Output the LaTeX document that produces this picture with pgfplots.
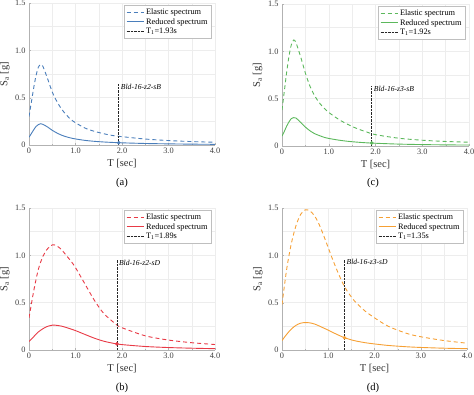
\documentclass[border=0pt]{standalone}
\usepackage{fontspec}
\setmainfont{Liberation Serif}
\usepackage{pgfplots}
\pgfplotsset{compat=1.18}
\definecolor{cblue}{RGB}{74,126,187}
\definecolor{cgreen}{RGB}{92,184,92}
\definecolor{cred}{RGB}{232,58,70}
\definecolor{corange}{RGB}{246,160,52}
\tikzset{ann/.style={anchor=north west, font=\itshape\fontsize{7.6}{8}\selectfont, inner sep=1pt, xshift=1pt}}
\pgfplotsset{
  sp/.style={
    scale only axis, width=186pt, height=142pt,
    xmin=0, xmax=4, ymin=0, ymax=1.5,
    axis lines=left, axis line style={gray!60, -},
    xtick={0,1,2,3,4}, xticklabels={0,1.0,2.0,3.0,4.0},
    ytick={0,0.5,1,1.5}, yticklabels={0,0.5,1.0,1.5},
    minor x tick num=1, minor y tick num=1,
    grid=both, grid style={gray!14, line width=0.4pt}, minor grid style={gray!14, line width=0.4pt},
    tick style={gray!60}, tick align=inside,
    major tick length=2pt, minor tick length=1pt,
    /pgf/number format/assume math mode=true,
    tick label style={font=\fontsize{8.3}{9}\selectfont, text=black!75},
    xticklabel style={yshift=1pt},
    xlabel={T [sec]}, ylabel={S\textsubscript{a} [g]},
    label style={font=\fontsize{10.5}{11}\selectfont, text=black!80},
    xlabel style={at={(axis description cs:0.5,-0.13)}, anchor=center},
    ylabel style={at={(axis description cs:-0.13,0.5)}, anchor=center},
    legend cell align=left,
    legend style={at={(rel axis cs:0.98,0.985)}, anchor=north east,
      font=\fontsize{8.3}{9.3}\selectfont, draw=gray!50, inner sep=1.5pt,
      row sep=-1.8pt, fill=white},
  },
  el/.style={line width=0.9pt, dash pattern=on 4pt off 3pt},
  rd/.style={line width=0.9pt},
  tl/.style={black!85, line width=0.6pt, dash pattern=on 0.8pt off 0.6pt},
}
\begin{document}
\begin{tikzpicture}
\useasboundingbox (0pt,0pt) rectangle (474pt,394pt);
% (a)
\begin{axis}[sp, at={(29pt,249pt)}, anchor=south west]
\addplot[cblue, el, smooth] coordinates {(0,0.30) (0.05,0.45) (0.1,0.6) (0.15,0.73) (0.2,0.82) (0.25,0.85) (0.3,0.83) (0.4,0.70) (0.5,0.56) (0.6,0.46) (0.7,0.38) (0.8,0.32) (0.9,0.27) (1.0,0.235) (1.2,0.18) (1.4,0.145) (1.6,0.12) (1.8,0.10) (2.0,0.088) (2.5,0.063) (3.0,0.047) (3.5,0.036) (4.0,0.029)};
\addlegendentry{Elastic spectrum}
\addplot[cblue, rd, smooth] coordinates {(0,0.082) (0.05,0.12) (0.1,0.16) (0.15,0.195) (0.2,0.215) (0.25,0.225) (0.3,0.218) (0.4,0.19) (0.5,0.155) (0.6,0.127) (0.7,0.104) (0.8,0.087) (0.9,0.074) (1.0,0.064) (1.2,0.049) (1.4,0.039) (1.6,0.032) (1.8,0.027) (2.0,0.023) (2.5,0.016) (3.0,0.012) (3.5,0.009) (4.0,0.007)};
\addlegendentry{Reduced spectrum}
\addplot[tl] coordinates {(1.93,0) (1.93,0.64)};
\addlegendentry{T\textsubscript{1}=1.93s}
\addplot[only marks, mark=*, mark size=1.6pt, cblue, forget plot] coordinates {(1.93,0.024)};
\node[ann] at (axis cs:1.93,0.65) {Bld-16-z2-sB};
\end{axis}
% (c)
\begin{axis}[sp, at={(282pt,248pt)}, anchor=south west, width=187pt]
\addplot[cgreen, el, smooth] coordinates {(0,0.38) (0.05,0.58) (0.1,0.78) (0.15,0.95) (0.2,1.07) (0.25,1.12) (0.3,1.09) (0.4,0.94) (0.5,0.77) (0.6,0.63) (0.7,0.53) (0.8,0.455) (0.9,0.40) (1.0,0.355) (1.2,0.285) (1.4,0.23) (1.6,0.185) (1.8,0.15) (2.0,0.12) (2.5,0.082) (3.0,0.061) (3.5,0.048) (4.0,0.04)};
\addlegendentry{Elastic spectrum}
\addplot[cgreen, rd, smooth] coordinates {(0,0.105) (0.05,0.155) (0.1,0.21) (0.15,0.255) (0.2,0.29) (0.25,0.30) (0.3,0.295) (0.4,0.25) (0.5,0.20) (0.6,0.16) (0.7,0.13) (0.8,0.11) (0.9,0.092) (1.0,0.08) (1.2,0.063) (1.4,0.05) (1.6,0.041) (1.8,0.034) (2.0,0.029) (2.5,0.02) (3.0,0.015) (3.5,0.012) (4.0,0.01)};
\addlegendentry{Reduced spectrum}
\addplot[tl] coordinates {(1.92,0) (1.92,0.63)};
\addlegendentry{T\textsubscript{1}=1.92s}
\addplot[only marks, mark=*, mark size=1.6pt, cgreen, forget plot] coordinates {(1.92,0.031)};
\node[ann] at (axis cs:1.92,0.64) {Bld-16-z3-sB};
\end{axis}
% (b)
\begin{axis}[sp, at={(29pt,44pt)}, anchor=south west]
\addplot[cred, el, smooth] coordinates {(0,0.34) (0.1,0.62) (0.2,0.85) (0.3,0.99) (0.4,1.07) (0.5,1.11) (0.55,1.11) (0.6,1.10) (0.7,1.06) (0.8,1.00) (0.9,0.94) (1.0,0.87) (1.2,0.70) (1.4,0.53) (1.6,0.39) (1.8,0.30) (1.9,0.26) (2.0,0.235) (2.5,0.15) (3.0,0.105) (3.5,0.077) (4.0,0.058)};
\addlegendentry{Elastic spectrum}
\addplot[cred, rd, smooth] coordinates {(0,0.09) (0.1,0.14) (0.2,0.19) (0.3,0.225) (0.4,0.25) (0.5,0.262) (0.55,0.263) (0.6,0.26) (0.7,0.252) (0.8,0.238) (0.9,0.222) (1.0,0.205) (1.2,0.165) (1.4,0.126) (1.6,0.094) (1.8,0.072) (1.9,0.064) (2.0,0.057) (2.5,0.037) (3.0,0.026) (3.5,0.019) (4.0,0.014)};
\addlegendentry{Reduced spectrum}
\addplot[tl] coordinates {(1.89,0) (1.89,0.95)};
\addlegendentry{T\textsubscript{1}=1.89s}
\addplot[only marks, mark=*, mark size=1.6pt, cred, forget plot] coordinates {(1.89,0.065)};
\node[ann] at (axis cs:1.89,0.96) {Bld-16-z2-sD};
\end{axis}
% (d)
\begin{axis}[sp, at={(282pt,44pt)}, anchor=south west, width=185pt]
\addplot[corange, el, smooth] coordinates {(0,0.48) (0.1,0.85) (0.2,1.12) (0.3,1.31) (0.4,1.43) (0.5,1.48) (0.6,1.47) (0.7,1.42) (0.8,1.33) (0.9,1.21) (1.0,1.08) (1.1,0.95) (1.2,0.83) (1.3,0.72) (1.4,0.63) (1.5,0.56) (1.6,0.50) (1.8,0.41) (2.0,0.34) (2.3,0.25) (2.7,0.175) (3.0,0.14) (3.5,0.10) (4.0,0.072)};
\addlegendentry{Elastic spectrum}
\addplot[corange, rd, smooth] coordinates {(0,0.10) (0.1,0.165) (0.2,0.22) (0.3,0.26) (0.4,0.283) (0.5,0.29) (0.6,0.287) (0.7,0.275) (0.8,0.255) (0.9,0.232) (1.0,0.21) (1.1,0.185) (1.2,0.162) (1.3,0.14) (1.4,0.122) (1.5,0.107) (1.6,0.095) (1.8,0.077) (2.0,0.064) (2.3,0.048) (2.7,0.034) (3.0,0.027) (3.5,0.019) (4.0,0.014)};
\addlegendentry{Reduced spectrum}
\addplot[tl] coordinates {(1.35,0) (1.35,0.96)};
\addlegendentry{T\textsubscript{1}=1.35s}
\addplot[only marks, mark=*, mark size=1.6pt, corange, forget plot] coordinates {(1.35,0.13)};
\node[ann] at (axis cs:1.35,0.97) {Bld-16-z3-sD};
\end{axis}
% captions
\node[font=\fontsize{10.5}{11}\selectfont] at (122pt,211pt) {(a)};
\node[font=\fontsize{10.5}{11}\selectfont] at (373pt,211pt) {(c)};
\node[font=\fontsize{10.5}{11}\selectfont] at (122pt,6pt) {(b)};
\node[font=\fontsize{10.5}{11}\selectfont] at (373pt,6pt) {(d)};
\end{tikzpicture}
\end{document}
